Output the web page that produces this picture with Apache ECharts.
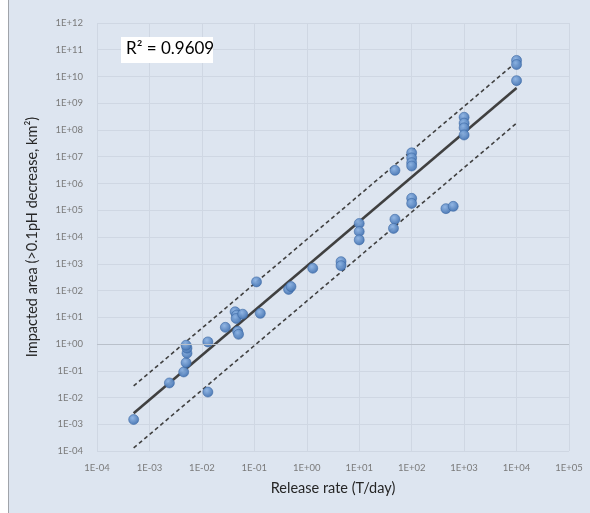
<!DOCTYPE html>
<html>
<head>
<meta charset="utf-8">
<script src="https://cdn.jsdelivr.net/npm/echarts@6/dist/echarts.min.js"></script>
<style>
  html, body { margin: 0; padding: 0; background: #ffffff; }
  #wrap { position: absolute; left: 8px; top: 0; width: 582px; height: 513px; background: #dde5f0; border-left: 1px solid #a0a4aa; }
  #chart { position: absolute; left: -9px; top: 0; width: 590px; height: 513px; }
</style>
</head>
<body>
<div id="wrap"><div id="chart"></div></div>
<script>
// release rate (T/day) vs impacted area (km2)
var releaseRate = [5e-4, 2.4e-3, 4.5e-3, 5e-3, 5.2e-3, 5.2e-3, 5e-3, 1.3e-2, 1.3e-2, 2.8e-2,
  4.3e-2, 4.6e-2, 4.5e-2, 6e-2, 4.8e-2, 5e-2, 0.13, 0.11, 0.45, 0.5,
  1.3, 4.5, 4.5, 10, 10, 10, 48, 45, 48, 100,
  100, 100, 100, 100, 100, 450, 620, 1000, 1000, 1000,
  1000, 1e4, 1e4, 1e4]
var impactedArea = [1.5e-3, 3.5e-2, 9e-2, 0.2, 0.45, 0.7, 0.9, 1.2, 1.6e-2, 4.2,
  16, 12, 9, 13, 3, 2.3, 14, 210, 110, 140,
  680, 1200, 850, 3.2e4, 1.6e4, 7.8e3, 4.6e4, 2.1e4, 3.1e6, 2.8e5,
  1.8e5, 1.4e7, 9e6, 6e6, 4.5e6, 1.15e5, 1.4e5, 3e8, 1.8e8, 1.2e8,
  6.5e7, 4e10, 2.8e10, 7e9]

// fitted line and the two bounds (end points)
var fitLine = [[5e-4, 2.6e-3], [1e4, 3.7e9]]
var upperLine = [[5e-4, 2.7e-2], [1e4, 3.5e10]]
var lowerLine = [[5e-4, 1.3e-4], [1e4, 1.8e8]]

var rSquared = 'R² = 0.9609'
var xName = 'Release rate (T/day)'
var yName = 'Impacted area (>0.1pH decrease, km²)'

var points = releaseRate.map(function(x, i) { return [x, impactedArea[i]] })

function sciLabel(v) {
  var e = Math.round(Math.log10(v))
  var s = e < 0 ? '-' : '+'
  var a = Math.abs(e)
  return '1E' + s + (a < 10 ? '0' + a : '' + a)
}

var chart = echarts.init(document.getElementById('chart'))
var labelFont = { color: '#7a7a7a', fontSize: 9.5, fontFamily: 'Lato' }

chart.setOption({
  backgroundColor: 'transparent',
  animation: false,
  grid: { left: 97, right: 21, top: 23, bottom: 62 },
  graphic: [
    { type: 'rect', left: 121, top: 37, shape: { width: 92, height: 26 }, style: { fill: '#ffffff' }, z: 10 },
    { type: 'text', left: 126, top: 40, style: { text: rSquared, fill: '#000000', font: '17px Lato' }, z: 11 }
  ],
  xAxis: {
    type: 'log',
    logBase: 10,
    min: 1e-4,
    max: 1e5,
    interval: 1,
    name: xName,
    nameLocation: 'middle',
    nameGap: 30,
    nameTextStyle: { color: '#262626', fontSize: 14.5, fontFamily: 'Lato' },
    axisLine: { show: false },
    axisTick: { show: false },
    axisLabel: Object.assign({ margin: 12, formatter: sciLabel }, labelFont),
    splitLine: { show: true, lineStyle: { color: '#cfd7e3', width: 1 } }
  },
  yAxis: {
    type: 'log',
    logBase: 10,
    min: 1e-4,
    max: 1e12,
    interval: 1,
    name: yName,
    nameLocation: 'middle',
    nameGap: 57,
    nameTextStyle: { color: '#262626', fontSize: 14.5, fontFamily: 'Lato' },
    axisLine: { show: false },
    axisTick: { show: false },
    axisLabel: Object.assign({ margin: 14, formatter: sciLabel }, labelFont),
    splitLine: { show: true, lineStyle: { color: '#cfd7e3', width: 1 } }
  },
  series: [
    {
      type: 'line',
      data: upperLine,
      symbol: 'none',
      silent: true,
      lineStyle: { color: '#404040', width: 1.6, type: [4, 3] },
      z: 3
    },
    {
      type: 'line',
      data: lowerLine,
      symbol: 'none',
      silent: true,
      lineStyle: { color: '#404040', width: 1.6, type: [4, 3] },
      z: 3
    },
    {
      type: 'line',
      data: fitLine,
      symbol: 'none',
      silent: true,
      lineStyle: { color: '#404040', width: 2.6 },
      z: 3
    },
    {
      type: 'scatter',
      data: points,
      symbolSize: 10,
      itemStyle: {
        color: new echarts.graphic.RadialGradient(0.4, 0.35, 0.7, [
          { offset: 0, color: '#8db3e2' },
          { offset: 1, color: '#3f6fae' }
        ]),
        borderColor: '#3a67a3',
        borderWidth: 0.6,
        opacity: 0.95
      },
      markLine: { // the x axis crosses at 1E+00
        silent: true,
        symbol: 'none',
        label: { show: false },
        lineStyle: { color: '#b9c0ca', width: 1, type: 'solid' },
        data: [{ yAxis: 1 }]
      },
      z: 4
    }
  ]
})
</script>
</body>
</html>
